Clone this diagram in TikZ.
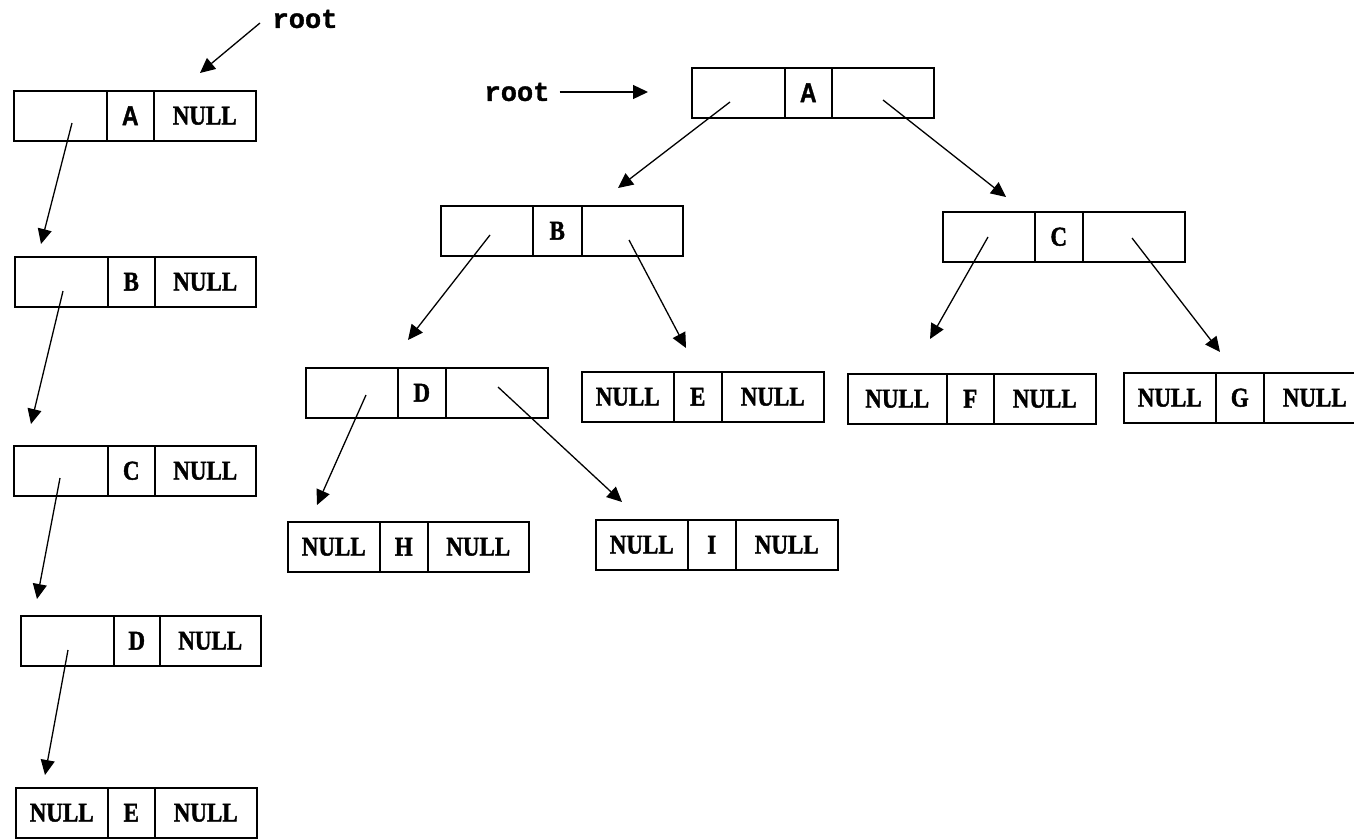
\documentclass[tikz,border=0pt]{standalone}
\usepackage{graphicx}
\usepackage{fontspec}
\setmainfont{Liberation Serif}[BoldFeatures={FakeBold=1.6}]
\newfontfamily\labelfont{Liberation Mono}[BoldFeatures={FakeBold=1.4}]
\newfontfamily\cellsans{Liberation Sans}[BoldFeatures={FakeBold=1.4}]
\usetikzlibrary{arrows.meta}
\tikzset{
  cell/.style={draw, rectangle, anchor=north west, inner sep=0pt,
    minimum height=50pt, line width=1.5pt,
    font=\bfseries\fontsize{23}{23}\selectfont},
  ptr/.style={line width=1.3pt, -{Triangle[length=15pt,width=14pt]}},
  rootlabel/.style={font=\labelfont\bfseries\fontsize{27}{27}\selectfont, inner sep=0pt}
}
% cell text, set a little taller than the font's own shape
\newcommand\celltext[1]{\scalebox{1}[1.18]{#1}}
% one record: name, x of its four vertical edges, top y, and the three cell texts
\newcommand\record[9]{%
  \node[cell, minimum width={(#3-#2)*1pt}] (#1-l) at (#2,#6) {\celltext{#7}};
  \node[cell, minimum width={(#4-#3)*1pt}] (#1-m) at (#3,#6) {\celltext{#8}};
  \node[cell, minimum width={(#5-#4)*1pt}] (#1-r) at (#4,#6) {\celltext{#9}};
}
\begin{document}
\begin{tikzpicture}[x=1pt, y=-1pt]
\clip (0,0) rectangle (1354,838);
\fill[white] (0,0) rectangle (1354,838);

% ---------- list form ----------
\record{la}{13}{106}{153}{255}{90}{}{\cellsans A}{NULL}
\record{lb}{14}{107}{154}{255}{256}{}{B}{NULL}
\record{lc}{13}{107}{154}{255}{445}{}{C}{NULL}
\record{ld}{20}{113}{159}{260}{615}{}{D}{NULL}
\record{le}{15}{107}{154}{256}{787}{NULL}{E}{NULL}

\node[rootlabel] (lroot) at (305,19) {root};
\coordinate (lroot-s) at (260,23);
\coordinate (lroot-t) at (200,73);
\draw[ptr] (lroot-s) -- (lroot-t);

\coordinate (la-p) at (72,123);  \coordinate (lb-t) at (41,244);
\coordinate (lb-p) at (63,291);  \coordinate (lc-t) at (31,424);
\coordinate (lc-p) at (60,478);  \coordinate (ld-t) at (37,599);
\coordinate (ld-p) at (68,650);  \coordinate (le-t) at (45,775);
\draw[ptr] (la-p) -- (lb-t);
\draw[ptr] (lb-p) -- (lc-t);
\draw[ptr] (lc-p) -- (ld-t);
\draw[ptr] (ld-p) -- (le-t);

% ---------- tree form ----------
\record{ta}{691}{784}{831}{933}{67}{}{\cellsans A}{}
\record{tb}{440}{532}{581}{682}{205}{}{B}{}
\record{tc}{942}{1034}{1082}{1184}{211}{}{C}{}
\record{td}{305}{397}{445}{547}{367}{}{D}{}
\record{te}{581}{673}{721}{823}{371}{NULL}{E}{NULL}
\record{tf}{847}{946}{993}{1095}{373}{NULL}{F}{NULL}
\record{tg}{1123}{1215}{1263}{1365}{372}{NULL}{G}{NULL}
\record{th}{287}{379}{427}{528}{521}{NULL}{H}{NULL}
\record{ti}{595}{687}{735}{837}{519}{NULL}{I}{NULL}

\node[rootlabel] (troot) at (517,92) {root};
\coordinate (troot-t) at (648,92);
\draw[ptr] (troot.east) ++(10,0) coordinate (troot-s) -- (troot-t);

\coordinate (ta-lp) at (730,102);  \coordinate (tb-t) at (618,188);
\coordinate (ta-rp) at (883,100);  \coordinate (tc-t) at (1006,197);
\coordinate (tb-lp) at (490,235);  \coordinate (td-t) at (408,340);
\coordinate (tb-rp) at (629,240);  \coordinate (te-t) at (686,348);
\coordinate (tc-lp) at (988,237);  \coordinate (tf-t) at (930,339);
\coordinate (tc-rp) at (1132,238); \coordinate (tg-t) at (1220,352);
\coordinate (td-lp) at (366,395);  \coordinate (th-t) at (317,505);
\coordinate (td-rp) at (498,387);  \coordinate (ti-t) at (622,502);
\draw[ptr] (ta-lp) -- (tb-t);
\draw[ptr] (ta-rp) -- (tc-t);
\draw[ptr] (tb-lp) -- (td-t);
\draw[ptr] (tb-rp) -- (te-t);
\draw[ptr] (tc-lp) -- (tf-t);
\draw[ptr] (tc-rp) -- (tg-t);
\draw[ptr] (td-lp) -- (th-t);
\draw[ptr] (td-rp) -- (ti-t);
\end{tikzpicture}
\end{document}
